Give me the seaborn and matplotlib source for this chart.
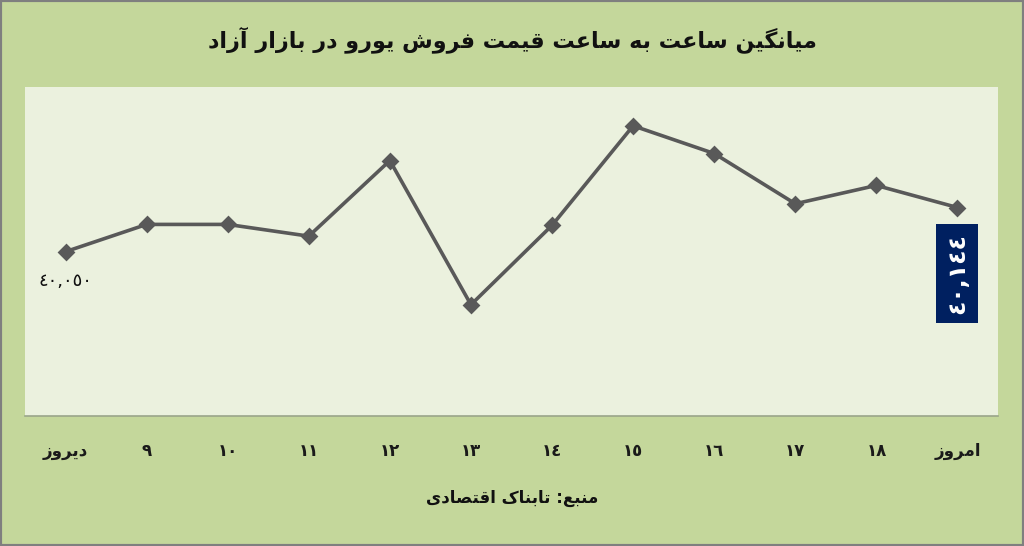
import matplotlib
matplotlib.use("Agg")
import matplotlib.pyplot as plt
from matplotlib.patches import Rectangle
import seaborn as sns
import pandas as pd

# ---------------- data ----------------
hours = ['دیروز', '٩', '١٠', '١١', '١٢', '١٣', '١٤', '١٥', '١٦', '١٧', '١٨', 'امروز']
prices = [40050, 40108, 40108, 40083, 40244, 39937, 40106, 40318, 40259, 40152, 40191, 40144]
title_text = 'میانگین ساعت به ساعت قیمت فروش یورو در بازار آزاد'
source_text = 'منبع: تابناک اقتصادی'

# ---------------- simple Persian shaping (presentation forms + RTL order) ----------------
FORMS = {
    'ا': (0xFE8D, 0xFE8E, None, None),
    'آ': (0xFE81, 0xFE82, None, None),
    'ب': (0xFE8F, 0xFE90, 0xFE91, 0xFE92),
    'ت': (0xFE95, 0xFE96, 0xFE97, 0xFE98),
    'د': (0xFEA9, 0xFEAA, None, None),
    'ر': (0xFEAD, 0xFEAE, None, None),
    'ز': (0xFEAF, 0xFEB0, None, None),
    'س': (0xFEB1, 0xFEB2, 0xFEB3, 0xFEB4),
    'ش': (0xFEB5, 0xFEB6, 0xFEB7, 0xFEB8),
    'ص': (0xFEB9, 0xFEBA, 0xFEBB, 0xFEBC),
    'ع': (0xFEC9, 0xFECA, 0xFECB, 0xFECC),
    'ف': (0xFED1, 0xFED2, 0xFED3, 0xFED4),
    'ق': (0xFED5, 0xFED6, 0xFED7, 0xFED8),
    'ک': (0xFB8E, 0xFB8F, 0xFB90, 0xFB91),
    'گ': (0xFB92, 0xFB93, 0xFB94, 0xFB95),
    'ل': (0xFEDD, 0xFEDE, 0xFEDF, 0xFEE0),
    'م': (0xFEE1, 0xFEE2, 0xFEE3, 0xFEE4),
    'ن': (0xFEE5, 0xFEE6, 0xFEE7, 0xFEE8),
    'ه': (0xFEE9, 0xFEEA, 0xFEEB, 0xFEEC),
    'و': (0xFEED, 0xFEEE, None, None),
    'ی': (0xFEEF, 0xFEF0, 0xFEF3, 0xFEF4),
}


def shape(text):
    if not any(c in FORMS for c in text):
        return text
    out = []
    n = len(text)
    for i, c in enumerate(text):
        if c not in FORMS:
            out.append(c)
            continue
        f = FORMS[c]
        prev = text[i - 1] if i > 0 else None
        nxt = text[i + 1] if i < n - 1 else None
        jp = prev in FORMS and FORMS[prev][2] is not None
        jn = f[2] is not None and nxt in FORMS
        if jp and jn:
            g = f[3]
        elif jp:
            g = f[1]
        elif jn:
            g = f[2]
        else:
            g = f[0]
        out.append(chr(g))
    return ''.join(reversed(out))


AR_DIGITS = str.maketrans('0123456789', '٠١٢٣٤٥٦٧٨٩')


def fmt(v):
    return f"{v:,}".translate(AR_DIGITS)


# ---------------- plot ----------------
sns.set_theme(style="white")
plt.rcParams['font.family'] = ['DejaVu Sans']

OUTER = '#C4D79B'
INNER = '#EBF1DE'
LINE = '#595959'

fig = plt.figure(figsize=(10.24, 5.46), dpi=100, facecolor=OUTER)
ax = fig.add_axes([25 / 1024, 1 - 416 / 546, 973 / 1024, (416 - 87.3) / 546])
ax.set_facecolor(INNER)

labels = [shape(h) for h in hours]
df = pd.DataFrame({'hour': labels, 'price': prices})
sns.pointplot(data=df, x='hour', y='price', order=labels, color=LINE,
              markers='D', linestyles='-', markersize=7, linewidth=2.6, ax=ax)

ax.set_xlim(-0.5, len(hours) - 0.5)
ax.set_ylim(39700, 40400)
ax.set_xlabel('')
ax.set_ylabel('')
ax.set_yticks([])
ax.tick_params(axis='x', length=0, pad=19, labelsize=12, colors='#1a1a1a')
for t in ax.get_xticklabels():
    t.set_fontweight('bold')
for s in ['top', 'left', 'right']:
    ax.spines[s].set_visible(False)
ax.spines['bottom'].set_color('#9aa58a')
ax.spines['bottom'].set_linewidth(1.2)

# data labels
ax.annotate(fmt(prices[0]), xy=(0, prices[0]), xytext=(0, -21), textcoords='offset points',
            ha='center', va='center', fontsize=13, color='#111111')
ax.annotate(fmt(prices[-1]), xy=(len(prices) - 1, prices[-1]), xytext=(0, -47.5),
            textcoords='offset points', ha='center', va='center', rotation=90,
            fontsize=17, fontweight='bold', color='white',
            bbox=dict(boxstyle='square,pad=0.38', fc='#002060', ec='none'))

fig.text(512 / 1024, 1 - 40 / 546, shape(title_text), ha='center', va='center',
         fontsize=16, fontweight='bold', color='#111111')
fig.text(512 / 1024, 1 - 498 / 546, shape(source_text), ha='center', va='center',
         fontsize=12, fontweight='bold', color='#111111')

fig.add_artist(Rectangle((0, 0), 1, 1, transform=fig.transFigure, fill=False,
                         ec='#7f7f7f', lw=3, clip_on=False))

fig.savefig('out.png', dpi=100, facecolor=OUTER)
